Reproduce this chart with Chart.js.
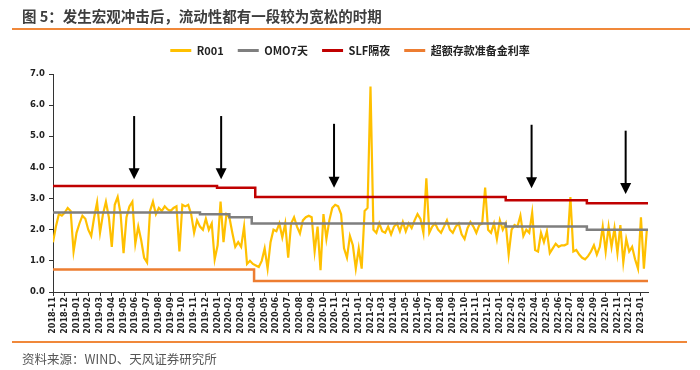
<!DOCTYPE html>
<html>
<head>
<meta charset="utf-8">
<script src="https://cdn.jsdelivr.net/npm/chart.js@4.4.0/dist/chart.umd.min.js"></script>
<style>
  body { margin: 0; background: #fff; }
  #wrap { position: relative; width: 700px; height: 370px; overflow: hidden; }
  #myChart { position: absolute; left: 0; top: 0; }
  .title { position: absolute; left: 22px; top: 5px; font: bold 14.5px "Noto Sans CJK SC", sans-serif; color: #3d3d3d; white-space: nowrap; }
  .rule { position: absolute; left: 12px; height: 2px; background: #f0883a; }
  .source { position: absolute; left: 22px; top: 349px; font: 12.5px "Noto Sans CJK SC", sans-serif; color: #555; white-space: nowrap; }
</style>
</head>
<body>
<div id="wrap">
  <canvas id="myChart" width="700" height="370"></canvas>
  <div class="title">图 5：发生宏观冲击后，流动性都有一段较为宽松的时期</div>
  <div class="rule" style="top:28px; width:678px;"></div>
  <div class="rule" style="top:341px; width:675px;"></div>
  <div class="source">资料来源：WIND、天风证券研究所</div>
</div>
<script>
// 月份标签 (x 轴)
const meses = ['2018-11','2018-12',
  '2019-01','2019-02','2019-03','2019-04','2019-05','2019-06','2019-07','2019-08','2019-09','2019-10','2019-11','2019-12',
  '2020-01','2020-02','2020-03','2020-04','2020-05','2020-06','2020-07','2020-08','2020-09','2020-10','2020-11','2020-12',
  '2021-01','2021-02','2021-03','2021-04','2021-05','2021-06','2021-07','2021-08','2021-09','2021-10','2021-11','2021-12',
  '2022-01','2022-02','2022-03','2022-04','2022-05','2022-06','2022-07','2022-08','2022-09','2022-10','2022-11','2022-12',
  '2023-01']

// R001, 每周一个点 (每月4个)
const r001_2018 = [1.6,2.1,2.5,2.45,2.55,2.7,2.6,1.3]
const r001_2019 = [1.9,2.2,2.45,2.35, 2.0,1.8,2.4,2.88, 1.9,2.5,2.9,2.4, 1.45,2.8,3.05,2.5,
  1.25,2.4,2.75,2.9, 1.55,2.1,1.66,1.1, 0.95,2.6,2.9,2.5, 2.7,2.6,2.75,2.65,
  2.6,2.7,2.75,1.3, 2.8,2.75,2.8,2.5, 1.9,2.3,2.1,2.0, 2.35,2.0,2.2,1.05]
const r001_2020 = [1.5,2.9,1.6,2.5, 2.4,1.9,1.45,1.6, 1.45,2.1,0.9,1.0, 0.9,0.85,0.8,1.0,
  1.4,0.75,1.6,2.0, 1.95,2.2,1.75,2.2, 1.1,2.2,2.4,2.1, 1.88,2.3,2.4,2.45,
  2.4,1.3,2.1,0.7, 2.5,1.7,2.3,2.7, 2.8,2.75,2.5,1.4, 1.1,1.8,1.5,0.75]
const r001_2021 = [1.4,0.75,2.6,2.7, 6.6,2.0,1.9,2.2, 1.95,1.9,2.1,1.85, 2.1,2.2,1.95,2.25,
  1.95,2.2,2.05,2.3, 2.5,2.35,1.9,3.65, 1.9,2.1,2.2,2.0, 1.9,2.1,2.3,2.0,
  1.9,2.1,2.2,1.85, 1.7,2.05,2.25,2.1, 1.9,2.15,2.2,3.35, 2.0,1.9,2.2,1.7]
const r001_2022 = [2.3,2.0,2.2,1.2, 2.0,2.15,2.1,2.45, 1.8,2.0,1.9,2.55, 1.35,1.3,1.9,1.6,
  1.95,1.25,1.4,1.55, 1.45,1.5,1.5,1.55, 3.05,1.3,1.35,1.2, 1.1,1.05,1.15,1.3,
  1.5,1.2,1.45,2.1, 1.3,2.1,1.45,2.05, 1.25,2.15,0.95,1.7, 1.3,1.45,1.05,0.75]
const r001_2023 = [2.4,0.75,2.0]
const r001 = [].concat(r001_2018, r001_2019, r001_2020, r001_2021, r001_2022, r001_2023)
const paso = 0.25

// 阶梯利率: 调整时点(月序号) 与 利率
const omoX = [0, 12.5, 15.0, 16.9, 38.5, 45.4, 50.6]
const omoY = [2.55, 2.50, 2.40, 2.20, 2.10, 2.00, 2.00]
const slfX = [0, 13.95, 17.2, 38.5, 45.4, 50.6]
const slfY = [3.40, 3.35, 3.05, 2.95, 2.85, 2.85]
const ceX = [0, 17.1, 50.6]
const ceY = [0.72, 0.35, 0.35]

// 箭头 (月序号, 起点, 终点)
const flechaX = [6.9, 14.3, 23.9, 40.7, 48.7]
const flechaTop = [5.65, 5.65, 5.4, 5.37, 5.18]
const flechaBot = [3.62, 3.62, 3.35, 3.33, 3.15]

const toXY = (xs, ys) => xs.map((x, i) => ({ x: x, y: ys[i] }))

const flechas = {
  id: 'flechas',
  afterLayout(chart) { // mover la leyenda como en el original
    chart.legend.left += 26
    chart.legend.right += 26
    chart.legend.top -= 8
    chart.legend.bottom -= 8
  },
  afterDatasetsDraw(chart) {
    const ctx = chart.ctx
    const sx = chart.scales.x, sy = chart.scales.y
    ctx.save()
    ctx.strokeStyle = '#000'
    ctx.fillStyle = '#000'
    ctx.lineWidth = 2
    flechaX.forEach((m, i) => {
      const x = sx.getPixelForValue(m)
      const y0 = sy.getPixelForValue(flechaTop[i])
      const y1 = sy.getPixelForValue(flechaBot[i])
      ctx.beginPath()
      ctx.moveTo(x, y0)
      ctx.lineTo(x, y1 - 9)
      ctx.stroke()
      ctx.beginPath()
      ctx.moveTo(x - 5.5, y1 - 11)
      ctx.lineTo(x + 5.5, y1 - 11)
      ctx.lineTo(x, y1)
      ctx.closePath()
      ctx.fill()
    })
    ctx.restore()
  }
}

const tickFont = { family: 'DejaVu Sans', size: 8, weight: 'bold' }

new Chart(document.getElementById('myChart'), {
  type: 'line',
  data: {
    datasets: [
      { label: 'R001', data: r001.map((v, i) => ({ x: i * paso, y: v })), borderColor: '#ffc000', backgroundColor: '#ffc000', borderWidth: 2.2, order: 5 },
      { label: 'OMO7天', data: toXY(omoX, omoY), borderColor: '#7f7f7f', backgroundColor: '#7f7f7f', borderWidth: 2.5, stepped: 'before', order: 1 },
      { label: 'SLF隔夜', data: toXY(slfX, slfY), borderColor: '#c00000', backgroundColor: '#c00000', borderWidth: 2.5, stepped: 'before', order: 0 },
      { label: '超额存款准备金利率', data: toXY(ceX, ceY), borderColor: '#ed7d31', backgroundColor: '#ed7d31', borderWidth: 2.5, stepped: 'before', order: 2 }
    ]
  },
  options: {
    responsive: false,
    animation: false,
    devicePixelRatio: 1,
    layout: { padding: { top: 39, left: 0, right: 52, bottom: 0 } },
    elements: { point: { radius: 0 }, line: { tension: 0 } },
    plugins: {
      tooltip: { enabled: false },
      legend: {
        position: 'top',
        labels: {
          boxWidth: 21,
          boxHeight: 3,
          padding: 14,
          color: '#222',
          font: { family: 'Noto Sans CJK SC', size: 11, weight: 'bold' },
          sort: (a, b) => a.datasetIndex - b.datasetIndex,
          generateLabels: (chart) => Chart.defaults.plugins.legend.labels.generateLabels(chart)
            .map(it => Object.assign(it, { lineWidth: 0, fillStyle: it.strokeStyle }))
        }
      }
    },
    scales: {
      x: {
        type: 'linear',
        min: 0,
        max: 50.6,
        afterFit: (s) => { s.height = 78 },
        grid: { display: true, drawOnChartArea: false, drawTicks: true, tickLength: 4, color: '#333' },
        border: { display: true, color: '#333', width: 1 },
        ticks: {
          stepSize: 1,
          includeBounds: false,
          autoSkip: false,
          maxRotation: 90,
          minRotation: 90,
          padding: 1,
          color: '#222',
          font: tickFont,
          callback: (v) => meses[v] || ''
        }
      },
      y: {
        min: 0,
        max: 7,
        afterFit: (s) => { s.width = 53 },
        grid: { display: true, drawOnChartArea: false, drawTicks: true, tickLength: 4, color: '#333' },
        border: { display: true, color: '#333', width: 1 },
        ticks: {
          stepSize: 1,
          padding: 4,
          color: '#222',
          font: { family: 'DejaVu Sans', size: 8.5, weight: 'bold' },
          callback: (v) => v.toFixed(1)
        }
      }
    }
  },
  plugins: [flechas]
})
</script>
</body>
</html>
